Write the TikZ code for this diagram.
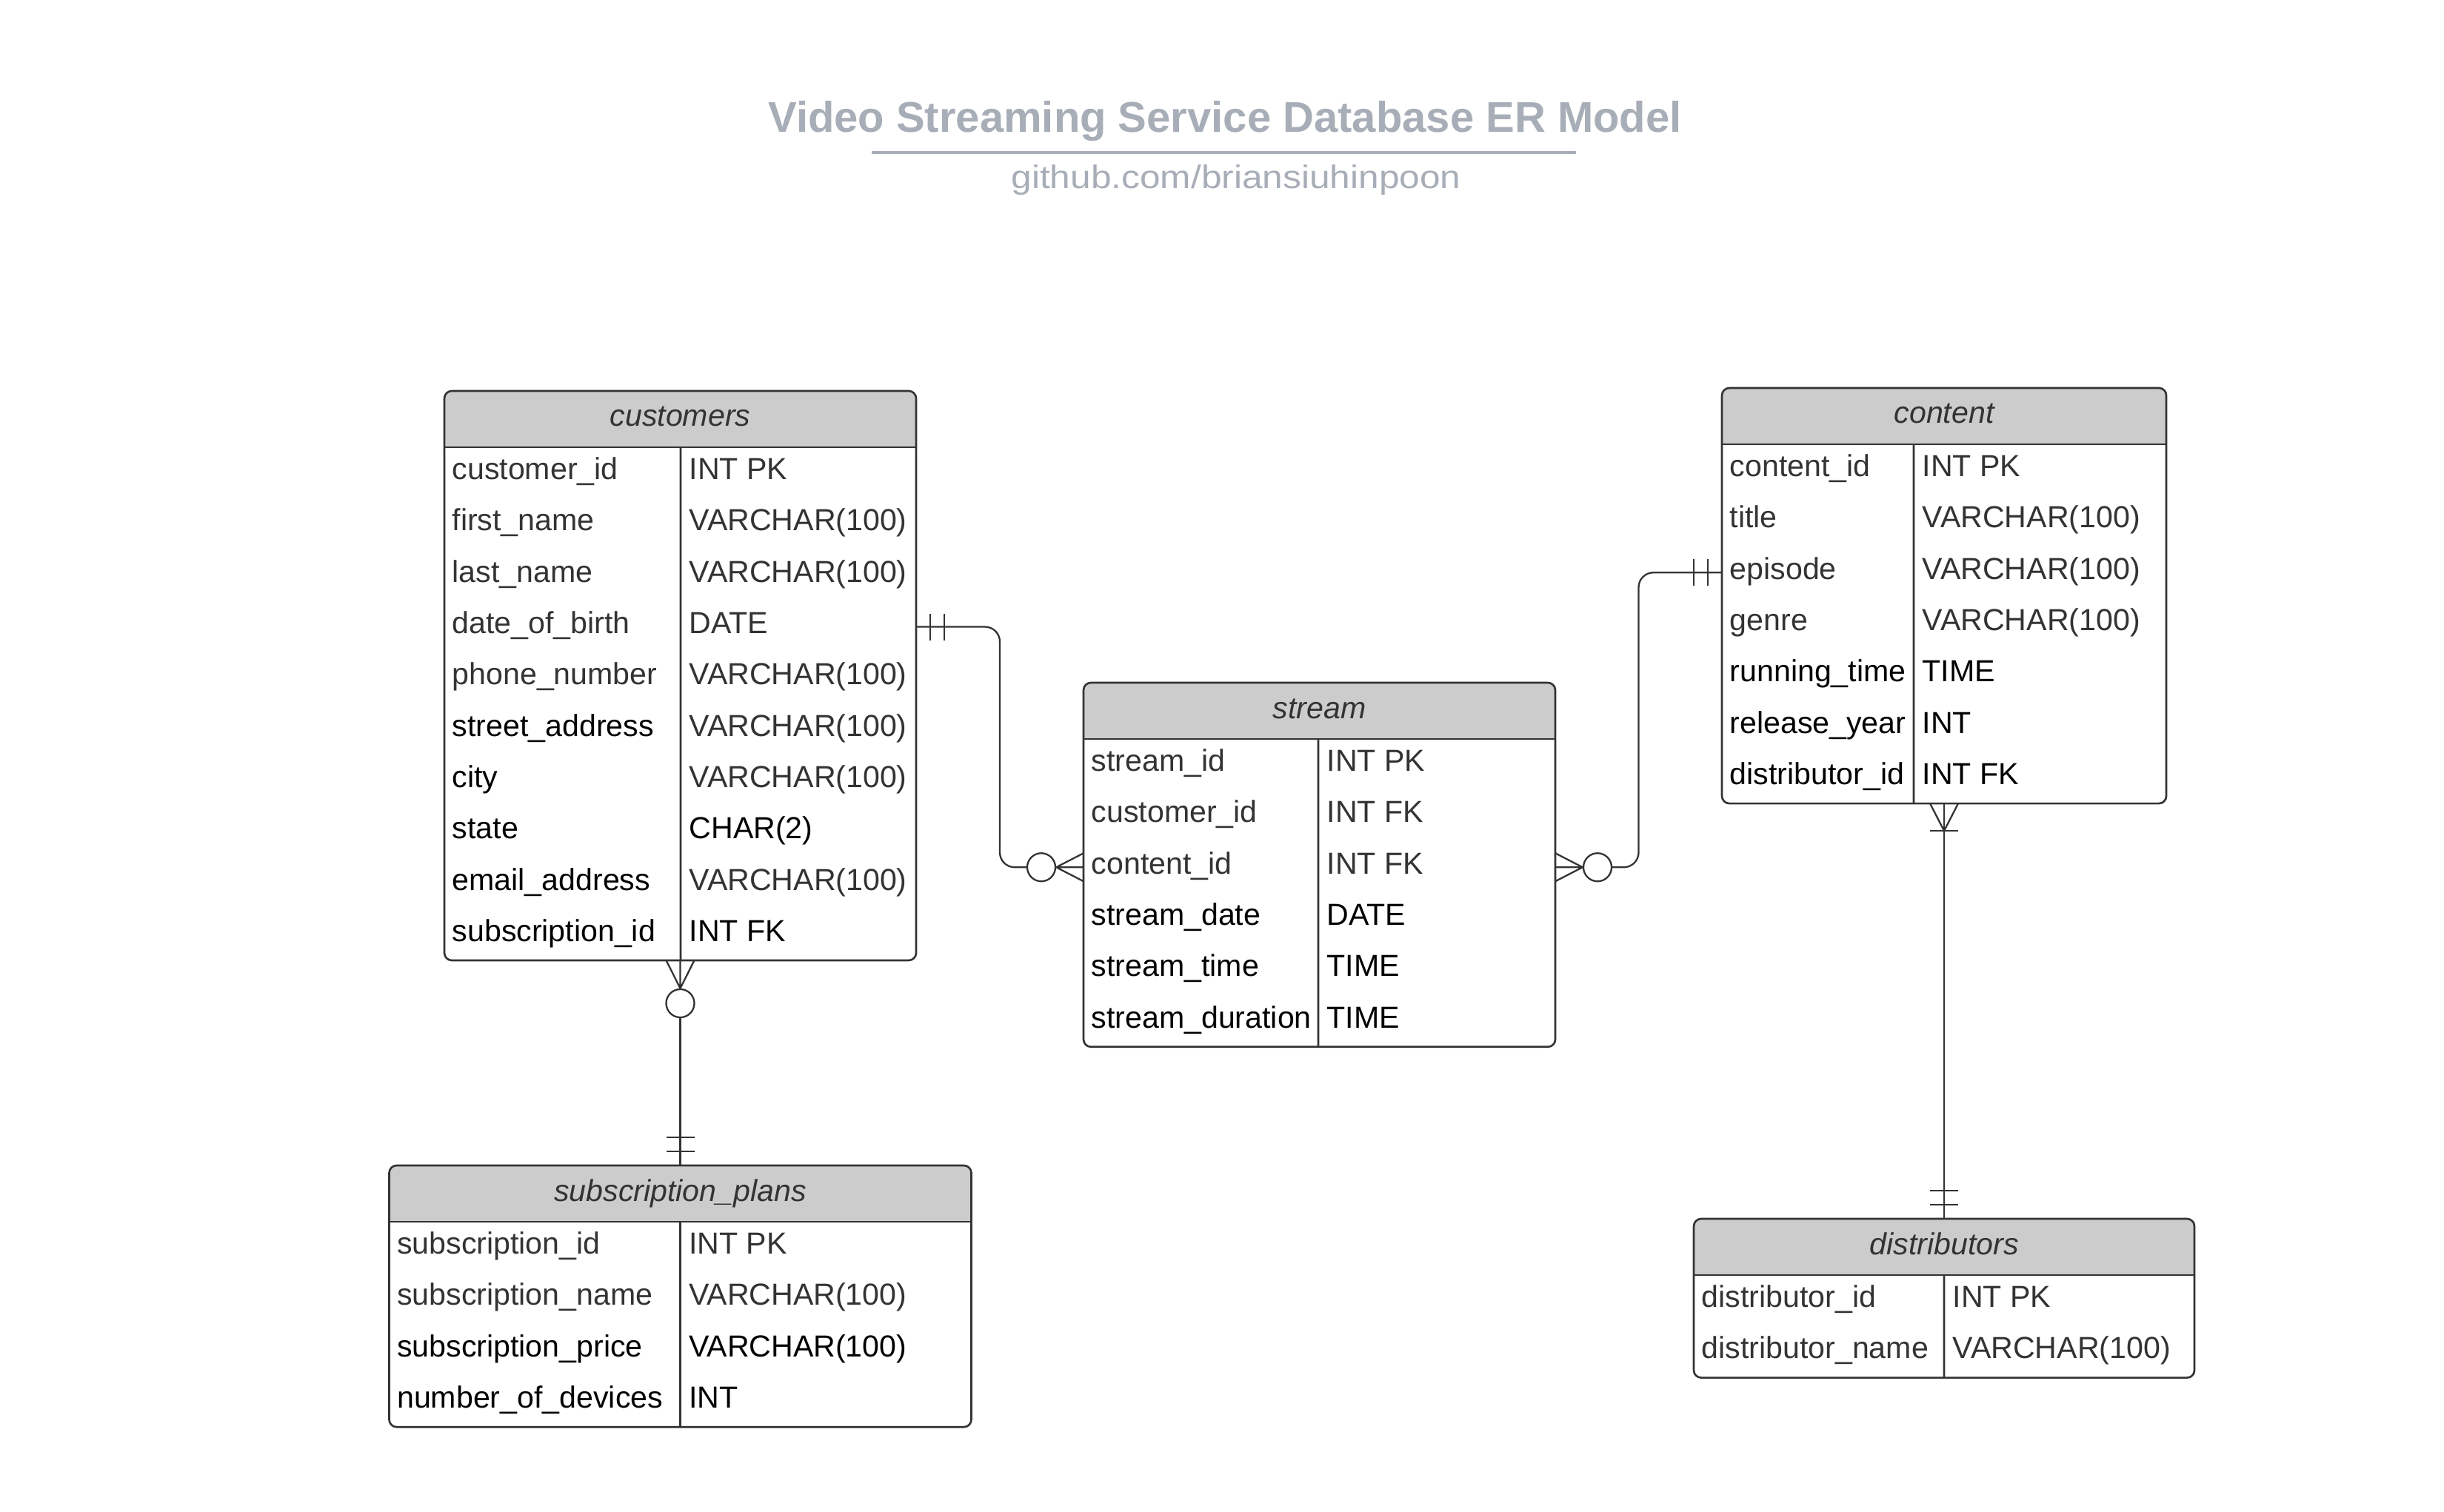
\documentclass[tikz,border=0pt]{standalone}
\usepackage{fontspec}
\setmainfont{Liberation Sans}
\newfontfamily\subfont[FakeStretch=1.13]{Liberation Sans}
\usepackage{tikz}
\usetikzlibrary{calc}

\definecolor{ink}{HTML}{333333}
\definecolor{hdr}{HTML}{CCCCCC}
\definecolor{ttl}{HTML}{A8AEB7}

\tikzset{
  ertable/.style={draw=ink, line width=0.75pt, rounded corners=0.1cm, inner sep=0pt, outer sep=0pt, anchor=north west,
    path picture={\fill[hdr, sharp corners] (path picture bounding box.north west) rectangle ([yshift=-0.76cm]path picture bounding box.north east);}},
  erline/.style={draw=ink, line width=0.75pt},
  erhead/.style={anchor=base, inner sep=0pt, text=ink, font=\fontsize{11.7}{14}\selectfont\itshape},
  erfield/.style={anchor=base west, inner sep=0pt, font=\fontsize{11.7}{14}\selectfont},
  rel/.style={draw=ink, line width=0.65pt},
  optcirc/.style={circle, draw=ink, line width=0.65pt, fill=white, minimum size=0.38cm, inner sep=0pt},
}

% #1 name, #2 top left, #3 width, #4 divider, #5 rows, #6 title, #7 fields
\newcommand{\erbox}[7]{%
  \node[ertable, minimum width=#3cm, minimum height={(0.76+0.693*#5)*1cm}] (#1) at #2 {};
  \draw[erline] ([yshift=-0.76cm]#1.north west) -- ([yshift=-0.76cm]#1.north east);
  \draw[erline] ([shift={(#4,-0.76)}]#1.north west) -- ([xshift=#4cm]#1.south west);
  \node[erhead] (#1-head) at ([shift={(#3/2,-0.48)}]#1.north west) {#6};
  \foreach \nm/\ty/\cn/\ct [count=\i] in {#7} {
    \coordinate (#1-r\i) at ([yshift={-(0.76+0.693*(\i-0.5))*1cm}]#1.north west);
    \node[erfield, text=\cn] (#1-n\i) at ([shift={(0.1,-0.09)}]#1-r\i) {\nm};
    \node[erfield, text=\ct] (#1-t\i) at ([shift={(#4+0.11,-0.09)}]#1-r\i) {\ty};
  }
}

\begin{document}
\begin{tikzpicture}
    \useasboundingbox (0,0) rectangle (33,-20.42);

    \node[anchor=base, text=ttl, font=\fontsize{16.5}{20}\selectfont\bfseries] (title) at (16.54,-1.79) {Video Streaming Service Database ER Model};
    \draw[ttl, line width=1.1pt] ($(title.base)+(-4.77,-0.27)$) -- ($(title.base)+(4.74,-0.27)$);
    \node[anchor=base, text=ttl, font=\subfont\fontsize{12.5}{15}\selectfont] (sub) at (16.69,-2.545) {github.com/briansiuhinpoon};

    % tables
    \erbox{cust}{(6.00,-5.28)}{6.37}{3.19}{10}{customers}{
      customer\_id/INT PK/ink/ink, first\_name/VARCHAR(100)/ink/ink, last\_name/VARCHAR(100)/ink/ink,
      date\_of\_birth/DATE/ink/ink, phone\_number/VARCHAR(100)/ink/ink, street\_address/VARCHAR(100)/black/ink,
      city/VARCHAR(100)/black/ink, state/CHAR(2)/black/black, email\_address/VARCHAR(100)/black/ink,
      subscription\_id/INT FK/black/black}
    \erbox{strm}{(14.63,-9.22)}{6.37}{3.17}{6}{stream}{
      stream\_id/INT PK/ink/ink, customer\_id/INT FK/ink/ink, content\_id/INT FK/ink/ink,
      stream\_date/DATE/black/black, stream\_time/TIME/black/black, stream\_duration/TIME/black/black}
    \erbox{cont}{(23.25,-5.24)}{6.00}{2.59}{7}{content}{
      content\_id/INT PK/ink/ink, title/VARCHAR(100)/ink/ink, episode/VARCHAR(100)/ink/ink,
      genre/VARCHAR(100)/ink/ink, running\_time/TIME/black/black, release\_year/INT/black/black,
      distributor\_id/INT FK/black/black}
    \erbox{subs}{(5.255,-15.74)}{7.86}{3.93}{4}{subscription\_plans}{
      subscription\_id/INT PK/ink/ink, subscription\_name/VARCHAR(100)/ink/ink,
      subscription\_price/VARCHAR(100)/black/black, number\_of\_devices/INT/black/black}
    \erbox{dist}{(22.87,-16.46)}{6.76}{3.38}{2}{distributors}{
      distributor\_id/INT PK/ink/ink, distributor\_name/VARCHAR(100)/ink/ink}

    % customers -- stream
    \coordinate (cs-a) at (cust-r4 -| cust.east);
    \coordinate (cs-b) at (strm-r3 -| strm.west);
    \node[optcirc] (cs-o) at ($(cs-b)+(-0.57,0)$) {};
    \draw[rel, rounded corners=0.2cm] (cs-a) -| ($(cs-a)!0.5!(cs-b)$) |- (cs-o.west);
    \draw[rel] (cs-o.east) -- ($(cs-b)+(0,0.19)$) (cs-o.east) -- (cs-b) (cs-o.east) -- ($(cs-b)+(0,-0.19)$);
    \foreach \d in {0.19,0.38}
        \draw[rel] ($(cs-a)+(\d,0.18)$) -- ($(cs-a)+(\d,-0.18)$);

    % content -- stream
    \coordinate (ct-a) at (cont-r3 -| cont.west);
    \coordinate (ct-b) at (strm-r3 -| strm.east);
    \node[optcirc] (ct-o) at ($(ct-b)+(0.57,0)$) {};
    \draw[rel, rounded corners=0.2cm] (ct-a) -| ($(ct-a)!0.5!(ct-b)$) |- (ct-o.east);
    \draw[rel] (ct-o.west) -- ($(ct-b)+(0,0.19)$) (ct-o.west) -- (ct-b) (ct-o.west) -- ($(ct-b)+(0,-0.19)$);
    \foreach \d in {0.19,0.38}
        \draw[rel] ($(ct-a)+(-\d,0.18)$) -- ($(ct-a)+(-\d,-0.18)$);

    % customers -- subscription_plans
    \coordinate (cp-a) at (cust.south);
    \coordinate (cp-b) at (cust.south |- subs.north);
    \node[optcirc] (cp-o) at ($(cp-a)+(0,-0.58)$) {};
    \draw[rel] (cp-o.south) -- (cp-b);
    \draw[rel] (cp-o.north) -- ($(cp-a)+(-0.19,0)$) (cp-o.north) -- (cp-a) (cp-o.north) -- ($(cp-a)+(0.19,0)$);
    \foreach \d in {0.19,0.38}
        \draw[rel] ($(cp-b)+(-0.19,\d)$) -- ($(cp-b)+(0.19,\d)$);

    % content -- distributors
    \coordinate (cd-a) at (cont.south);
    \coordinate (cd-b) at (cont.south |- dist.north);
    \coordinate (cd-k) at ($(cd-a)+(0,-0.37)$);
    \draw[rel] (cd-a) -- (cd-b);
    \draw[rel] (cd-k) -- ($(cd-a)+(-0.19,0)$) (cd-k) -- ($(cd-a)+(0.19,0)$);
    \draw[rel] ($(cd-k)+(-0.19,0)$) -- ($(cd-k)+(0.19,0)$);
    \foreach \d in {0.19,0.38}
        \draw[rel] ($(cd-b)+(-0.19,\d)$) -- ($(cd-b)+(0.19,\d)$);
\end{tikzpicture}
\end{document}
